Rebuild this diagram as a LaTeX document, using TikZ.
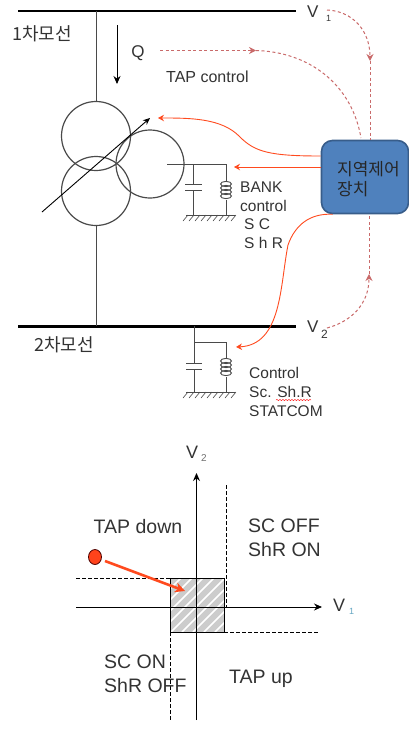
\documentclass[tikz,border=0pt]{standalone}
\usepackage{fontspec}
\setmainfont{Liberation Sans}
\newfontfamily\krfont{Noto Sans CJK KR}
\usepackage{tikz}
\usetikzlibrary{arrows.meta, decorations.pathmorphing, shapes.geometric}
\definecolor{txtgray}{HTML}{333333}
\definecolor{wiregray}{HTML}{4A4A4A}
\definecolor{ctrlred}{HTML}{FF4A1E}
\definecolor{dashred}{HTML}{C96A6A}
\definecolor{boxblue}{HTML}{4F81BD}
\definecolor{boxedge}{HTML}{385D8A}
\tikzset{
    bus/.style={line width=2.4pt, black},
    wire/.style={line width=0.9pt, wiregray},
    winding/.style={line width=1.2pt, wiregray},
    axis/.style={line width=0.9pt, black, -{Stealth[length=8pt, width=7pt]}},
    limit/.style={line width=0.7pt, black, dash pattern=on 3.5pt off 2.5pt},
    ctrl/.style={line width=0.9pt, ctrlred},
    ctrlarrow/.style={ctrl, -{Stealth[length=6pt, width=6.5pt]}},
    sense/.style={line width=1pt, dashred, dash pattern=on 3pt off 2.5pt},
    sensearrow/.style={sense, -{Stealth[length=7pt, width=7pt]}},
    lbl/.style={inner sep=0pt, text=txtgray, font=\fontsize{15.5}{17}\selectfont},
    biglbl/.style={inner sep=0pt, text=txtgray, font=\fontsize{19.5}{21}\selectfont},
    vlbl/.style={inner sep=0pt, text=txtgray, font=\fontsize{17}{19}\selectfont},
    krlbl/.style={inner sep=0pt, text=txtgray, font=\krfont\fontsize{18}{20}\selectfont}
}
\begin{document}
\begin{tikzpicture}[x=1pt, y=-1pt]
    \useasboundingbox (0,0) rectangle (409,731);

    \coordinate (busoneL) at (18, 11);
    \coordinate (busoneR) at (296, 11);
    \coordinate (bustwoL) at (18, 326.5);
    \coordinate (bustwoR) at (296, 326.5);
    \draw [bus] (busoneL) -- (busoneR);
    \draw [bus] (bustwoL) -- (bustwoR);
    \node [krlbl, anchor=west] (busonename) at (12, 34) {1차모선};
    \node [krlbl, anchor=west] (bustwoname) at (34, 345) {2차모선};
    \node [vlbl, anchor=west] (vone) at (307, 12) {V};
    \node [lbl, anchor=west, font=\fontsize{9}{10}\selectfont] (voneidx) at (326, 18) {1};
    \node [vlbl, anchor=west] (vtwo) at (307, 327) {V};
    \node [lbl, anchor=west, font=\fontsize{12}{13}\selectfont] (vtwoidx) at (321, 334) {2};

    \draw [wire] (96, 11) -- (96, 102);
    \draw [wire] (96, 225) -- (96, 326);
    \draw [winding] (96, 136) circle (34.5);
    \draw [winding] (96, 191) circle (34.5);
    \draw [winding] (150, 164) circle (34);
    \draw [line width=0.9pt, black, -{Stealth[length=7pt, width=6pt]}] (42, 212) -- (150, 118);

    \draw [line width=0.9pt, black, -{Stealth[length=8pt, width=7pt]}] (117, 25) -- (117, 84);
    \node [inner sep=0pt, text=txtgray, font=\fontsize{17}{19}\selectfont] (qlabel) at (138, 53) {Q};
    \node [lbl, anchor=west, font=\fontsize{16}{18}\selectfont] (taplabel) at (166, 77) {TAP control};

    \node [draw=boxedge, line width=1.6pt, fill=boxblue, rounded corners=11pt, minimum width=87pt, minimum height=73pt, inner sep=0pt] (ctrlbox) at (365, 177) {};
    \node [krlbl, anchor=west, text=black!85, align=left, font=\krfont\fontsize{17}{20}\selectfont] (ctrlname) at (337, 179) {지역제어\\장치};

    % first bank
    \draw [wire] (167, 164) -- (226, 164) -- (226, 181);
    \draw [wire] (226, 200) -- (226, 215);
    \foreach \yy in {184, 188, 192, 196} {
        \draw [wire] (226, \yy) ellipse (5.5 and 2.6);
    }
    \draw [wire] (193.5, 164) -- (193.5, 184.5);
    \draw [wire] (193.5, 190) -- (193.5, 215);
    \draw [wire] (185, 184.5) -- (202, 184.5);
    \draw [wire] (185, 190) -- (202, 190);
    \draw [wire] (186, 215) -- (235, 215);
    \foreach \xx in {188, 194, ..., 236} {
        \draw [wire, line width=0.6pt] (\xx, 215) -- (\xx-5, 221);
    }
    \node [lbl, anchor=west] (bankname) at (240, 187) {BANK};
    \node [lbl, anchor=west] (bankctrl) at (240, 206) {control};
    \node [lbl, anchor=west] (banksc) at (244, 224) {S C};
    \node [lbl, anchor=west] (bankshr) at (244, 243) {S h R};

    % second bank
    \draw [wire] (194, 326) -- (194, 363);
    \draw [wire] (194, 342) -- (226, 342) -- (226, 358);
    \draw [wire] (226, 377) -- (226, 392);
    \foreach \yy in {361, 365, 369, 373} {
        \draw [wire] (226, \yy) ellipse (5.5 and 2.6);
    }
    \draw [wire] (194, 369) -- (194, 392);
    \draw [wire] (186, 363) -- (202, 363);
    \draw [wire] (186, 369) -- (202, 369);
    \draw [wire] (186, 392) -- (235, 392);
    \foreach \xx in {188, 194, ..., 236} {
        \draw [wire, line width=0.6pt] (\xx, 392) -- (\xx-5, 398);
    }
    \node [lbl, anchor=west] (lowctrl) at (249, 373) {Control};
    \node [lbl, anchor=west] (lowsc) at (249, 392) {Sc. Sh.R};
    \node [lbl, anchor=west] (lowstat) at (249, 411) {STATCOM};
    \draw [red, line width=0.4pt, decorate, decoration={snake, amplitude=0.6pt, segment length=3pt}] (276, 400) -- (311, 400);

    % control lines
    \draw [ctrlarrow] ([yshift=21pt]ctrlbox.west) .. controls (270, 156) and (255, 152) .. (240, 137) .. controls (222, 118) and (190, 118) .. (158, 118);
    \draw [ctrlarrow] ([yshift=10pt]ctrlbox.west) -- (234, 167);
    \draw [ctrlarrow] ([xshift=12pt]ctrlbox.south west) .. controls (310, 213) and (295, 225) .. (288, 245) .. controls (280, 285) and (282, 345) .. (236, 347);

    % measured lines
    \coordinate (tapstart) at (160, 50.5);
    \coordinate (tapmid) at (256, 50.5);
    \coordinate (voneout) at (327, 10);
    \coordinate (vonemid) at (370, 61);
    \coordinate (vtwoout) at (327, 328);
    \coordinate (vtwomid) at (369, 274);
    \draw [sensearrow] (tapstart) -- (tapmid);
    \draw [sense] (tapmid) .. controls (310, 52) and (352, 85) .. (361, 138);
    \draw [sensearrow] (voneout) .. controls (352, 11) and (370, 30) .. (vonemid);
    \draw [sense] (vonemid) -- (370, 140);
    \draw [sensearrow] (vtwoout) .. controls (350, 322) and (369, 305) .. (vtwomid);
    \draw [sense] (vtwomid) -- (369, 214);

    % V1-V2 plane
    \fill [gray!40] (170, 578) rectangle (224, 632);
    \begin{scope}
        \clip (170, 578) rectangle (224, 632);
        \foreach \xx in {170, 181, ..., 280} {
            \draw [white, line width=1.6pt] (\xx, 578) -- (\xx-54, 632);
        }
    \end{scope}
    \draw [line width=0.9pt, black] (170, 578) rectangle (224, 632);
    \coordinate (axisleft) at (76, 607);
    \coordinate (axisright) at (322, 607);
    \coordinate (axisbottom) at (196.5, 720);
    \coordinate (axistop) at (196.5, 473);
    \draw [axis] (axisleft) -- (axisright);
    \draw [axis] (axisbottom) -- (axistop);
    \draw [limit] (76, 578) -- (170, 578);
    \draw [limit] (224, 632) -- (318, 632);
    \draw [limit] (170, 632) -- (170, 720);
    \draw [limit] (226.5, 485) -- (226.5, 607);
    \node [inner sep=0pt, text=txtgray, anchor=west, font=\fontsize{18}{20}\selectfont] (planevtwo) at (186, 452) {V};
    \node [lbl, anchor=west, font=\fontsize{10}{11}\selectfont, text=txtgray!70] (planevtwoidx) at (201, 458) {2};
    \node [inner sep=0pt, text=txtgray, anchor=west, font=\fontsize{18}{20}\selectfont] (planevone) at (333, 605) {V};
    \node [lbl, anchor=west, font=\fontsize{9}{10}\selectfont, text=cyan!50!gray] (planevoneidx) at (349, 611) {1};
    \node [biglbl] (tapdown) at (138, 527) {TAP down};
    \node [biglbl, anchor=west] (scoff) at (248, 526) {SC OFF};
    \node [biglbl, anchor=west] (shron) at (248, 550) {ShR ON};
    \node [biglbl, anchor=west] (scon) at (104, 662) {SC ON};
    \node [biglbl, anchor=west] (shroff) at (104, 686) {ShR OFF};
    \node [biglbl] (tapup) at (261, 679) {TAP up};

    \node [draw=black!70!red, line width=0.8pt, fill=ctrlred!90!red, ellipse, minimum width=13pt, minimum height=15pt, inner sep=0pt] (opdot) at (95, 557) {};
    \coordinate (optarget) at (185, 591);
    \draw [ctrlred, line width=2.6pt, -{Stealth[length=10pt, width=10pt]}] (105, 561) -- (optarget);
\end{tikzpicture}
\end{document}
